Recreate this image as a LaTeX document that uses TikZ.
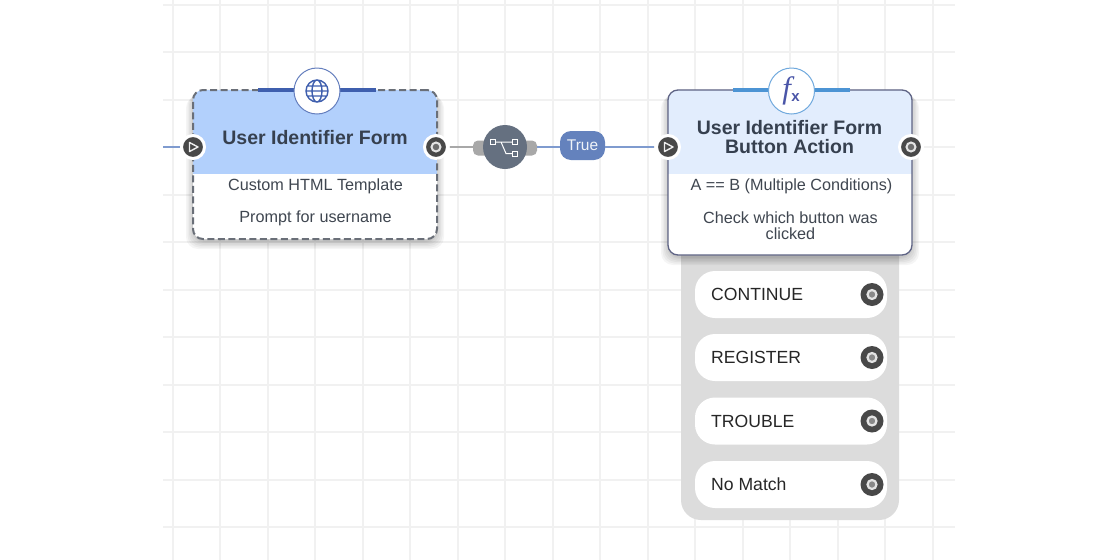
\documentclass[tikz,border=0pt]{standalone}
\usepackage{fontspec}
\setmainfont{Liberation Sans}
\newfontfamily\fxfont{Liberation Serif}
\usetikzlibrary{positioning,calc}
\definecolor{gridline}{HTML}{F1F1F1}
\definecolor{edgeblue}{HTML}{7F9BCF}
\definecolor{edgegray}{HTML}{A8A8A8}
\definecolor{hdrform}{HTML}{B2D0FC}
\definecolor{hdraction}{HTML}{E2EDFD}
\definecolor{cardline}{HTML}{6A6F78}
\definecolor{titletext}{HTML}{36404F}
\definecolor{subtext}{HTML}{3F4650}
\definecolor{portdark}{HTML}{484848}
\definecolor{routerfill}{HTML}{657080}
\definecolor{truefill}{HTML}{6482BD}
\definecolor{panelfill}{HTML}{DCDCDC}
\definecolor{globeblue}{HTML}{3F5FAE}
\definecolor{fxblue}{HTML}{4C94D4}
\definecolor{fxtext}{HTML}{4A55A8}
\tikzset{
  cardbase/.style={rectangle,rounded corners=10pt,minimum width=244pt,inner sep=0pt},
  title/.style={font=\fontsize{19.5}{19}\selectfont\bfseries,text=titletext,align=center},
  subtitle/.style={font=\fontsize{16.2}{16}\selectfont,text=subtext,align=center},
  badge/.style={circle,draw=#1,fill=white,line width=1pt,minimum size=46pt,inner sep=0pt},
  portin/.style={circle,fill=portdark,draw=white,line width=3pt,minimum size=23pt,inner sep=0pt},
  portout/.style={circle,fill=portdark,draw=white,line width=3pt,minimum size=23pt,inner sep=0pt},
  portsmall/.style={circle,fill=portdark,minimum size=23pt,inner sep=0pt},
  choice/.style={rectangle,rounded corners=20pt,fill=white,minimum width=192pt,minimum height=47pt,inner sep=0pt},
  choicetext/.style={font=\fontsize{17.6}{18}\selectfont,text=black!85,inner sep=0pt,anchor=west},
}
\begin{document}
\begin{tikzpicture}[x=1pt,y=1pt,line cap=butt]
  \useasboundingbox[fill=white] (0,0) rectangle (1120,-560);
  % grid
  \foreach \gx in {172.5,220,...,940}
    \draw[gridline,line width=2pt] (\gx,0) -- (\gx,-560);
  \foreach \gy in {-4.5,-52,...,-530}
    \draw[gridline,line width=2pt] (163,\gy) -- (955,\gy);

  % panel under the action card
  \node[rectangle,fill=panelfill,rounded corners=20pt,minimum width=218pt,minimum height=295pt,inner sep=0pt] (panel) at (790,-372.5) {};

  % shadows of the cards
  \foreach \sk in {7,5.5,4,2.5,1,0}{
    \fill[black,opacity=0.04,rounded corners=12pt] (193-\sk,-90-\sk+1) rectangle (437+\sk,-239-\sk-3);
    \fill[black,opacity=0.04,rounded corners=12pt] (668-\sk,-90-\sk+1) rectangle (912+\sk,-255-\sk-3);
  }

  % cards
  \node[cardbase,minimum height=149pt,fill=white,
    path picture={\fill[hdrform,sharp corners] (path picture bounding box.north west) rectangle ++(244,-84);}]
    (form) at (315,-164.5) {};
  \node[cardbase,minimum height=149pt,draw=cardline,line width=2pt,dash pattern=on 7pt off 3.5pt] (formline) at (315,-164.5) {};
  \node[cardbase,minimum height=165pt,fill=white,
    path picture={\fill[hdraction,sharp corners] (path picture bounding box.north west) rectangle ++(244,-84);}]
    (action) at (790,-172.5) {};
  \node[cardbase,minimum height=165pt,draw=cardline!90!blue,line width=1.3pt] (actionline) at (790,-172.5) {};

  \node[title] (formtitle) at (315,-137.5) {User Identifier Form};
  \node[subtitle] (formtype) at (315.5,-186.5) {Custom HTML Template};
  \node[subtitle] (formnote) at (315.5,-218) {Prompt for username};

  \node[title] (actiontitle) at (789.5,-137.5) {User Identifier Form\\Button Action};
  \node[subtitle] (actiontype) at (791.5,-186.5) {A == B (Multiple Conditions)};
  \node[subtitle] (actionnote) at (790.5,-225.5) {Check which button was\\clicked};

  % accents and badges
  \coordinate (forma) at (258,-90);
  \coordinate (formb) at (376,-90);
  \coordinate (actiona) at (733,-90);
  \coordinate (actionb) at (850,-90);
  \draw[globeblue,line width=3.5pt] (forma) -- (formb);
  \draw[fxblue,line width=3.5pt] (actiona) -- (actionb);
  \node[badge=globeblue!80] (globe) at (317,-91) {};
  \node[badge=fxblue!80] (fx) at (791.5,-91) {};
  \draw[globeblue,line width=1.4pt] (globe.center) circle (11pt)
    (globe.center) ellipse (5pt and 11pt)
    (globe.center) ++(-11,0) -- ++(22,0)
    ($(globe.center)+(-10,5)$) -- ($(globe.center)+(10,5)$)
    ($(globe.center)+(-10,-5)$) -- ($(globe.center)+(10,-5)$);
  \node[text=fxtext,inner sep=0pt] (fxlabel) at (791,-91) {{\fxfont\itshape\fontsize{31}{31}\selectfont f}\kern0.5pt\raisebox{-2.5pt}{\fontsize{15}{15}\selectfont\bfseries x}};

  % connectors
  \coordinate (edgein) at (163,-147);
  \node[portin] (formin) at (193,-147) {};
  \node[portout] (formout) at (436,-147) {};
  \node[portin] (actionin) at (668,-147) {};
  \node[portout] (actionout) at (911,-147) {};
  \node[rectangle,rounded corners=5pt,fill=edgegray,minimum width=64pt,minimum height=15pt,inner sep=0pt] (stub) at (505,-148) {};
  \node[circle,fill=routerfill,minimum size=44pt,inner sep=0pt] (router) at (505,-147) {};
  \node[rectangle,rounded corners=11pt,fill=truefill,minimum width=45pt,minimum height=29pt,inner sep=0pt,text=white!90!truefill,font=\fontsize{15.5}{16}\selectfont] (truelabel) at (582.5,-145.5) {True};

  \coordinate (trueleft) at (truelabel.west |- formin);
  \coordinate (trueright) at (truelabel.east |- formin);
  \draw[edgeblue,line width=2.5pt] (edgein) -- (formin);
  \draw[edgegray,line width=2.5pt] (formout) ++(14,0) -- (stub.west |- formout);
  \draw[edgeblue,line width=2.5pt] (stub.east |- formout) -- (trueleft);
  \draw[edgeblue,line width=2.5pt] (trueright) -- ($(actionin.west)+(-1,0)$);

  \foreach \pname in {formin,actionin}
    \draw[white!90!portdark,line width=1.4pt,line join=round] ($(\pname.center)+(-3.5,4.5)$) -- ($(\pname.center)+(5,0)$) -- ($(\pname.center)+(-3.5,-4.5)$) -- cycle;
  \foreach \pname in {formout,actionout}
    \draw[white!85!portdark,fill=portdark!80,line width=2pt] (\pname.center) circle (4.5pt);

  % router glyph
  \draw[white,line width=1pt] (router.center) ++(-12,5) -- ++(22,0)
    (router.center) ++(-4,5) -- ++(5,-11.5) -- ++(9,0);
  \foreach \gdx/\gdy in {-12/5,10/5,10/-6.5}
    \draw[white,fill=routerfill,line width=1pt] ($(router.center)+(\gdx-2.5,\gdy-2.5)$) rectangle ++(5,5);

  % choices
  \foreach \cname/\cy/\ctext in {cont/-294.5/CONTINUE,regi/-357.5/REGISTER,trou/-421/TROUBLE,nomatch/-484.5/No Match}{
    \node[choice] (\cname) at (791,\cy) {};
    \node[choicetext] (\cname text) at (711,\cy) {\ctext};
    \node[portsmall] (\cname port) at (872,\cy) {};
    \draw[white!85!portdark,fill=portdark!65,line width=2.2pt] (\cname port.center) circle (4.5pt);
  }
\end{tikzpicture}
\end{document}
